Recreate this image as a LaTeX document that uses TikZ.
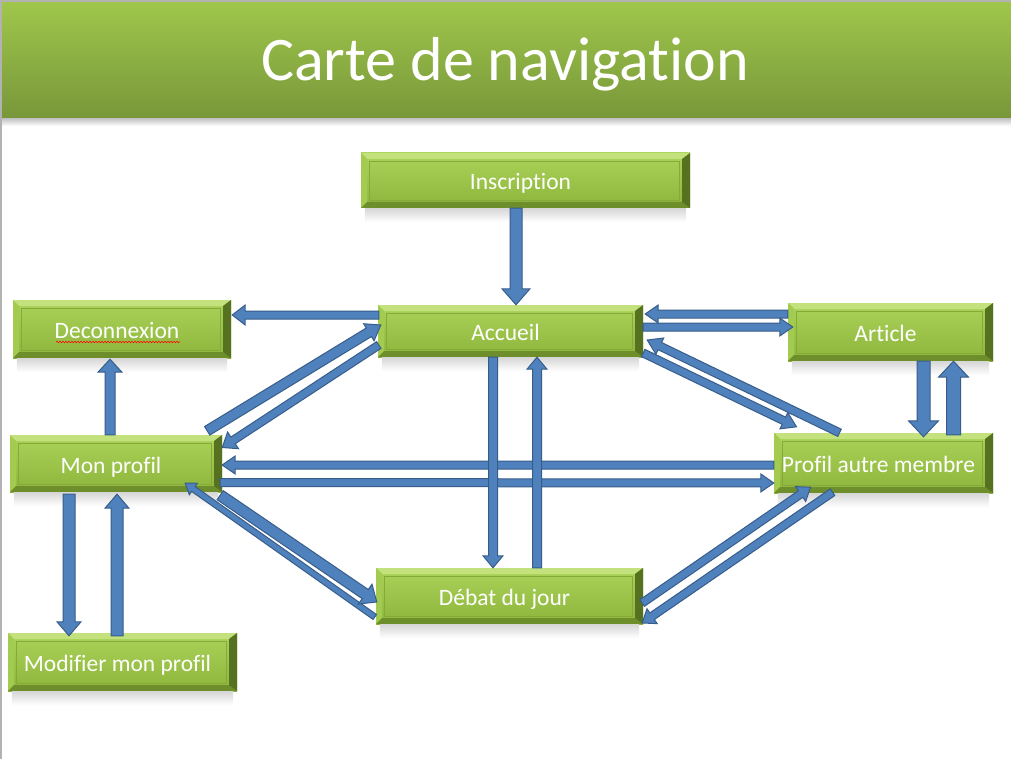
\documentclass[tikz,border=0pt]{standalone}
\usepackage{fontspec}
\setmainfont{Carlito}[Ligatures={NoCommon}]
\usetikzlibrary{calc,decorations.pathmorphing}
\definecolor{afill}{HTML}{4F81BD}
\definecolor{aline}{HTML}{385D8A}
\definecolor{bandT}{HTML}{9FC64B}
\definecolor{bandB}{HTML}{78973A}
\definecolor{faceT}{HTML}{ABD35A}
\definecolor{faceB}{HTML}{8DB53C}
\definecolor{bevT}{HTML}{C3E27E}
\definecolor{bevL}{HTML}{A2CB50}
\definecolor{bevB}{HTML}{6E8E2C}
\definecolor{bevR}{HTML}{56711F}
\definecolor{innerln}{HTML}{86AA3A}
\newcommand\barrow[5]{%
  \draw[arr] let \p1=(#1), \p2=(#2),
    \n1={atan2(\y2-\y1,\x2-\x1)}, \n2={veclen(\x2-\x1,\y2-\y1)} in
    [shift={(\p1)}, rotate=\n1]
    (0pt,-#3pt) -- ({\n2-#5pt},-#3pt) -- ({\n2-#5pt},-#4pt) -- ({\n2},0pt)
    -- ({\n2-#5pt},#4pt) -- ({\n2-#5pt},#3pt) -- (0pt,#3pt) -- cycle;}
\tikzset{
  arr/.style={fill=afill, draw=aline, line width=1pt, line join=miter},
  navbox/.style={rectangle, inner sep=0pt, text=white,
    font=\fontsize{23.5}{26}\selectfont, text height=19pt, text depth=0pt,
    execute at begin node={\hspace*{-10pt}},
    top color=faceT, bottom color=faceB, draw=none,
    path picture={
      \coordinate (NW) at (path picture bounding box.north west);
      \coordinate (NE) at (path picture bounding box.north east);
      \coordinate (SW) at (path picture bounding box.south west);
      \coordinate (SE) at (path picture bounding box.south east);
      \fill[bevT] (NW) -- (NE) -- ($(NE)+(-8pt,-6pt)$) -- ($(NW)+(6pt,-6pt)$) -- cycle;
      \fill[bevL] (NW) -- ($(NW)+(6pt,-6pt)$) -- ($(SW)+(6pt,6pt)$) -- (SW) -- cycle;
      \fill[bevB] (SW) -- ($(SW)+(6pt,6pt)$) -- ($(SE)+(-8pt,6pt)$) -- (SE) -- cycle;
      \fill[bevR] (NE) -- (SE) -- ($(SE)+(-8pt,6pt)$) -- ($(NE)+(-8pt,-6pt)$) -- cycle;
      \draw[innerln, line width=0.8pt] ($(NW)+(8pt,-8pt)$) rectangle ($(SE)+(-11pt,8pt)$);
    }},
  shadowbox/.style={top color=black!16, bottom color=white, draw=none}
}
\begin{document}
\begin{tikzpicture}[x=1pt,y=-1pt]
\useasboundingbox (0,0) rectangle (1011,759);
\fill[white] (0,0) rectangle (1011,759);
% borders
\fill[black!30] (0,0) rectangle (2,759);
\fill[black!30] (0,0) rectangle (1011,3);
% title band
\shade[top color=black!25, bottom color=white] (2,118) rectangle (1011,126);
\shade[top color=bandT, bottom color=bandB] (2,3) rectangle (1011,118);
\node[text=white, font=\fontsize{62}{64}\selectfont] (title) at (505,64) {Carte de navigation};
% boxes
\node[navbox, minimum width=329pt, minimum height=55pt] (insc) at (525.5,180.5) {Inscription};
\node[navbox, minimum width=265pt, minimum height=52pt] (acc) at (510.5,331) {Accueil};
\node[navbox, minimum width=218pt, minimum height=58pt] (deco) at (122,329) {Deconnexion};
\node[navbox, minimum width=205pt, minimum height=58pt] (art) at (890.5,332) {Article};
\node[navbox, minimum width=212pt, minimum height=57pt] (monp) at (116,463.5) {Mon profil};
\node[navbox, minimum width=219pt, minimum height=60pt] (pam) at (883.5,463) {Profil autre membre};
\node[navbox, minimum width=267pt, minimum height=56pt] (debat) at (509.5,596) {Débat du jour};
\node[navbox, minimum width=229pt, minimum height=58pt] (modif) at (122.5,662) {Modifier mon profil};
% soft reflections
\foreach \n in {insc,acc,deco,art,monp,pam,debat,modif}{
  \shade[shadowbox] ($(\n.south west)+(4,0)$) rectangle ($(\n.south east)+(-4,14)$);
}
% spell-check underline
\draw[red, line width=0.6pt, decorate, decoration={snake, amplitude=0.7pt, segment length=3pt}]
  ($(deco.center)+(-66,13)$) -- ($(deco.center)+(58,13)$);
% arrows
\barrow{$(insc.south)+(-9.5,0)$}{$(acc.north)+(5.5,0)$}{6}{14}{16}
\barrow{$(acc.west)+(1,-16)$}{$(deco.east)+(1,-14)$}{4}{10}{13}
\barrow{$(monp.north)+(-6,0)$}{$(deco.south)+(-12,1)$}{5}{12}{13}
\barrow{$(monp.north east)+(-15,-4)$}{$(acc.west)+(3,-6)$}{5}{10}{14}
\barrow{$(acc.west)+(1,14)$}{$(monp.east)+(0,-16)$}{4}{10}{13}
\barrow{$(art.west)+(0,-18)$}{$(acc.east)+(2,-17)$}{4}{9}{13}
\barrow{$(acc.east)+(0,-4)$}{$(art.west)+(5,-5)$}{4}{9}{13}
\barrow{$(pam.north)+(-44,0)$}{$(acc.east)+(4,9)$}{4}{9}{14}
\barrow{$(acc.east)+(0,22)$}{$(pam.north)+(-87,-6)$}{4}{9}{14}
\barrow{$(art.south)+(33,0)$}{$(pam.north)+(40,4)$}{6.5}{15}{16}
\barrow{$(pam.north)+(70,2)$}{$(art.south)+(63,0)$}{7}{15}{16}
\barrow{$(pam.west)+(0,2)$}{$(monp.east)+(0,1.5)$}{4}{9}{13}
\barrow{$(monp.east)+(-2,19)$}{$(pam.west)+(0,20)$}{4}{9}{13}
\barrow{$(acc.south)+(-17.5,0)$}{$(debat.north)+(-16.5,0)$}{4.5}{10}{12}
\barrow{$(debat.north)+(27.5,0)$}{$(acc.south)+(26.5,0)$}{4.5}{10}{12}
\barrow{$(debat.west)+(-1,21)$}{$(monp.south east)+(-37,-9)$}{3}{7}{10}
\barrow{$(monp.south east)+(-2,3)$}{$(debat.west)+(1,6)$}{5.5}{12}{14}
\barrow{$(debat.east)+(-1,7)$}{$(pam.south)+(-73,-6)$}{4}{9}{12}
\barrow{$(pam.south)+(-51,-1)$}{$(debat.east)+(-1,27)$}{4}{9}{12}
\barrow{$(monp.south)+(-47,2)$}{$(modif.north)+(-53.5,3)$}{6}{12}{14}
\barrow{$(modif.north)+(-5.5,3)$}{$(monp.south)+(1,2)$}{6}{12}{14}
\end{tikzpicture}
\end{document}
